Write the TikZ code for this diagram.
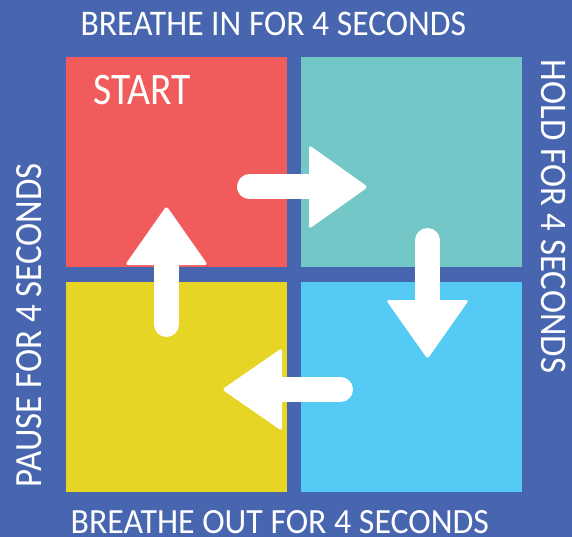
\documentclass[tikz,border=0pt]{standalone}
\usepackage{fontspec}
\setmainfont{Carlito}
\usepackage{graphicx}
\definecolor{bg}{HTML}{4866AF}
\definecolor{cred}{HTML}{F15B5C}
\definecolor{cteal}{HTML}{73C7C6}
\definecolor{cyel}{HTML}{E7D526}
\definecolor{cblue}{HTML}{55CAF5}
\newcommand{\fitbox}[3]{\resizebox{#1}{#2}{#3}}
\begin{document}
\begin{tikzpicture}[x=1pt,y=-1pt,
  sq/.style={rectangle, inner sep=0pt, outer sep=0pt, minimum width=221pt, minimum height=210pt, anchor=north west},
  lbl/.style={text=white, inner sep=0pt, outer sep=0pt, anchor=base west},
  shaft/.style={draw=white, line width=25pt, line cap=round},
  head/.style={fill=white, rounded corners=3pt}]
\fill[bg] (0,0) rectangle (572,537);
\useasboundingbox (0,0) rectangle (572,537);
% squares
\node[sq, fill=cred] (red) at (66,57) {};
\node[sq, fill=cteal] (teal) at (301,57) {};
\node[sq, fill=cyel] (yellow) at (66,282) {};
\node[sq, fill=cblue] (blue) at (301,282) {};
% labels
\node[lbl] (tin) at (80.5,35.8) {\fitbox{385.5pt}{23.4pt}{BREATHE IN FOR 4 SECONDS}};
\node[lbl] (tout) at (70.7,533.3) {\fitbox{418.3pt}{23pt}{BREATHE OUT FOR 4 SECONDS}};
\node[lbl] (start) at (93.3,104.3) {\fitbox{97.4pt}{29.3pt}{START}};
\node[lbl, rotate=-90] (hold) at (541.7,60) {\fitbox{313pt}{24.3pt}{HOLD FOR 4 SECONDS}};
\node[lbl, rotate=90] (pause) at (41.7,487) {\fitbox{324pt}{25pt}{PAUSE FOR 4 SECONDS}};
% right arrow
\coordinate (r1) at (249.5,187);
\coordinate (r2) at (315,187);
\draw[shaft] (r1) -- (r2);
\fill[head] (309,145) -- (368,187) -- (309,229) -- cycle;
% down arrow
\coordinate (d1) at (427.5,240.5);
\coordinate (d2) at (427.5,305);
\draw[shaft] (d1) -- (d2);
\fill[head] (386,300) -- (427.5,359) -- (469,300) -- cycle;
% left arrow
\coordinate (l1) at (340.5,389.5);
\coordinate (l2) at (276,389.5);
\draw[shaft] (l1) -- (l2);
\fill[head] (282,348) -- (222,389.5) -- (282,431) -- cycle;
% up arrow
\coordinate (u1) at (166.5,324.5);
\coordinate (u2) at (166.5,259);
\draw[shaft] (u1) -- (u2);
\fill[head] (125,265) -- (166.5,206) -- (208,265) -- cycle;
\end{tikzpicture}
\end{document}
